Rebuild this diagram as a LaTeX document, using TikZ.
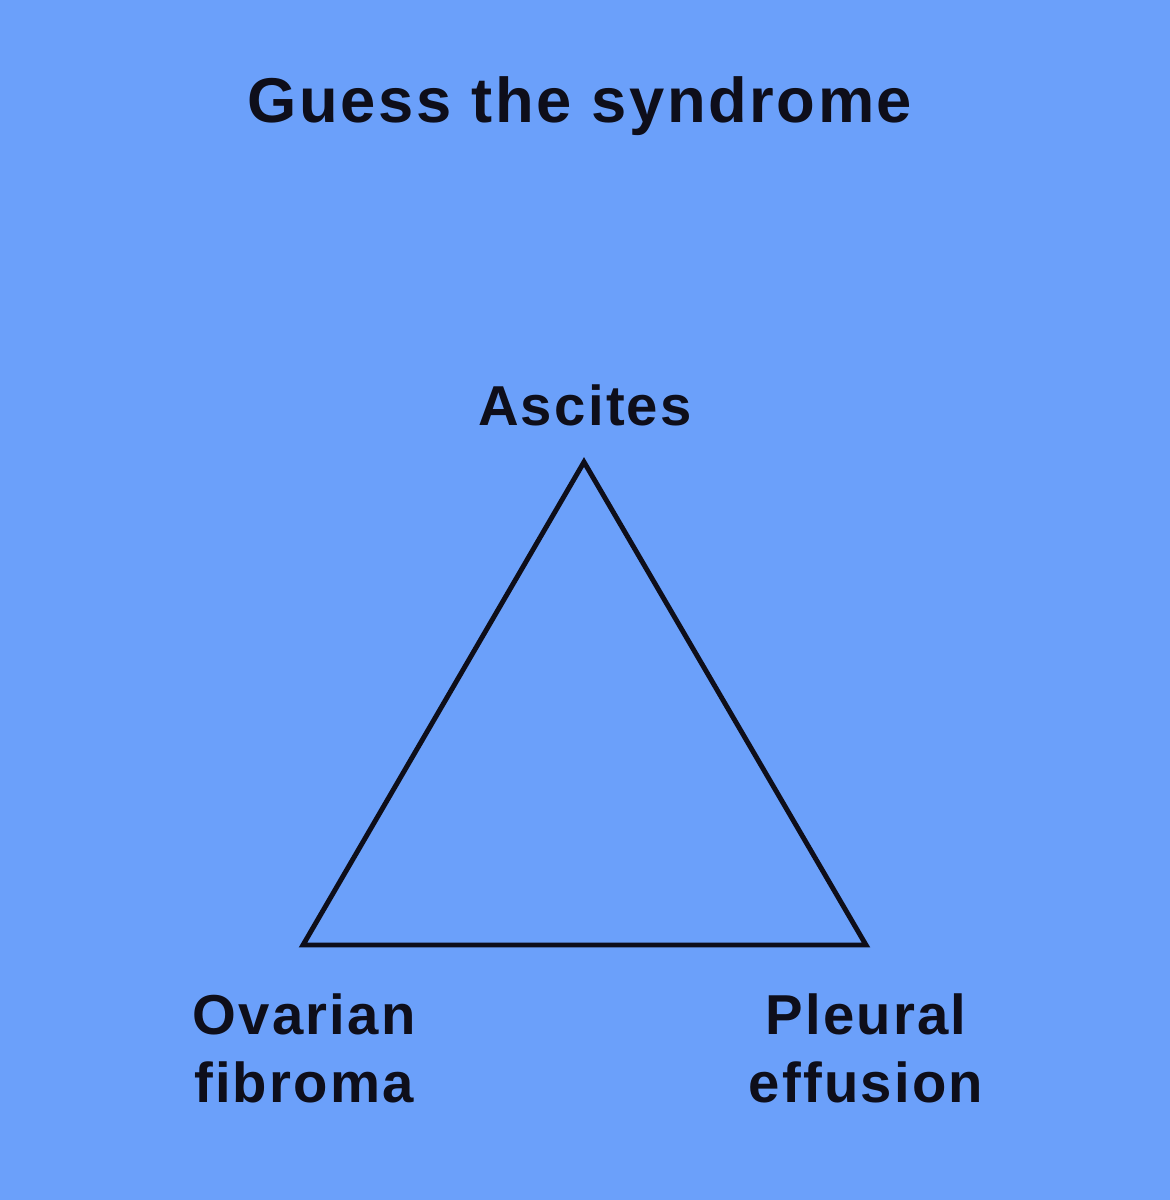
\documentclass[tikz,border=0pt]{standalone}
\usepackage{fontspec}
\setmainfont{Liberation Sans}[LetterSpace=4]
\definecolor{bg}{HTML}{6BA0FA}
\definecolor{ink}{HTML}{0E0E1A}
\begin{document}
\begin{tikzpicture}[x=0.01cm,y=-0.01cm,
  lbl/.style={text=ink,font=\fontsize{16pt}{19.4pt}\selectfont\bfseries,align=center,inner sep=0pt}]
\fill[bg] (0,0) rectangle (1170,1200);
\useasboundingbox (0,0) rectangle (1170,1200);
\node[lbl,font=\fontsize{18pt}{21pt}\selectfont\bfseries] (title) at (580,106) {Guess the syndrome};
\coordinate (A) at (584,462);
\coordinate (B) at (303,945);
\coordinate (C) at (866,945);
\draw[ink,line width=1.4pt,line join=miter] (A) -- (B) -- (C) -- cycle;
\node[lbl] (asc) at (585,405) {Ascites};
\node[lbl] (ov) at (304,1048) {Ovarian\\fibroma};
\node[lbl] (pl) at (866,1048) {Pleural\\effusion};
\end{tikzpicture}
\end{document}
